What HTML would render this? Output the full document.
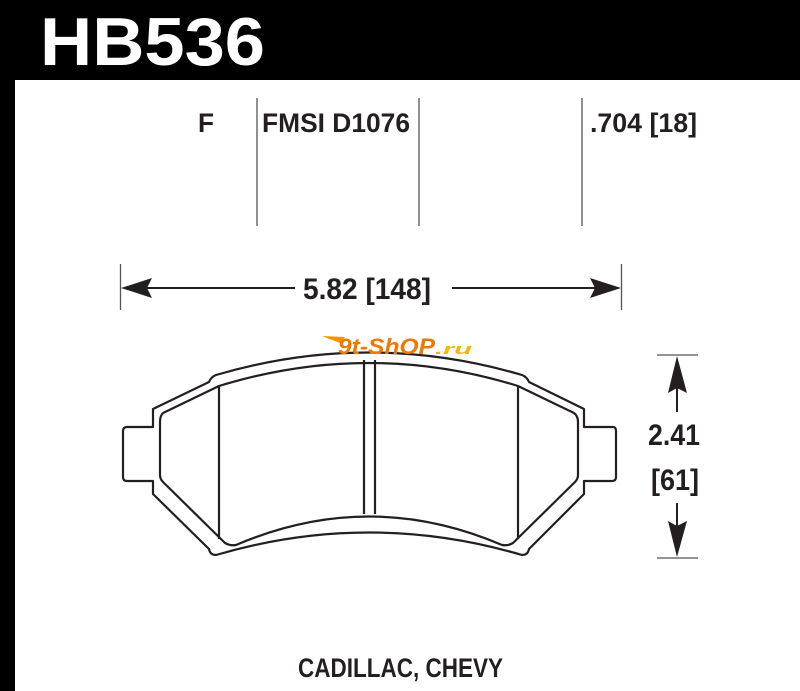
<!DOCTYPE html>
<html><head><meta charset="utf-8"><style>
html,body{margin:0;padding:0;background:#fff}
svg{display:block}
text{font-family:"Liberation Sans",sans-serif;font-weight:bold;fill:#231f20}
</style></head><body>
<svg width="800" height="691" viewBox="0 0 800 691" xmlns="http://www.w3.org/2000/svg">
<rect x="0" y="0" width="800" height="80" fill="#000"/>
<rect x="0" y="0" width="15" height="691" fill="#000"/>
<text x="40" y="65" font-size="68" fill="#fff" style="fill:#fff" textLength="225" lengthAdjust="spacingAndGlyphs">HB536</text>

<g stroke="#555" stroke-width="1.3">
<line x1="257" y1="98" x2="257" y2="226"/>
<line x1="419" y1="98" x2="419" y2="226"/>
<line x1="582" y1="98" x2="582" y2="226"/>
<line x1="120.5" y1="264" x2="120.5" y2="310"/>
<line x1="621.5" y1="264" x2="621.5" y2="310"/>
<line x1="657" y1="355" x2="698" y2="355"/>
<line x1="657" y1="558" x2="698" y2="558"/>
</g>
<text x="198" y="132" font-size="27" textLength="16" lengthAdjust="spacingAndGlyphs">F</text>
<text x="262" y="132" font-size="27" textLength="148" lengthAdjust="spacingAndGlyphs">FMSI D1076</text>
<text x="590" y="132" font-size="27" textLength="107" lengthAdjust="spacingAndGlyphs">.704 [18]</text>

<g stroke="#231f20" stroke-width="2" fill="#231f20">
<line x1="140" y1="288" x2="295" y2="288"/>
<line x1="452" y1="288" x2="602" y2="288"/>
<polygon points="121,288 152,278 147,288 152,298" stroke="none"/>
<polygon points="621,288 590,278 595,288 590,298" stroke="none"/>
<line x1="677" y1="380" x2="677" y2="412"/>
<line x1="677" y1="503" x2="677" y2="535"/>
<polygon points="677,356 668,393 677,388 687,393" stroke="none"/>
<polygon points="677,557 668,521 677,526 687,521" stroke="none"/>
</g>
<text x="303" y="299" font-size="30" textLength="128" lengthAdjust="spacingAndGlyphs">5.82 [148]</text>
<text x="648" y="445" font-size="30" textLength="52" lengthAdjust="spacingAndGlyphs">2.41</text>
<text x="651" y="490" font-size="30" textLength="48" lengthAdjust="spacingAndGlyphs">[61]</text>
<text x="298" y="677" font-size="27" textLength="205" lengthAdjust="spacingAndGlyphs">CADILLAC, CHEVY</text>

<g fill="none" stroke="#231f20" stroke-width="2.2" stroke-linejoin="round">
<path d="M153,409 L209,382 Q211,377 216,375 Q369,330 522,375 Q527,377 529,382 L584,409 L584,427 L613,427 Q616,427 616,431 L616,477 Q616,481 612,481 L584,481 L584,494 L529,549 Q528,555 522,555 Q369,510 216,555 Q210,555 209,549 L153,494 L153,481 L127,481 Q123,481 123,477 L123,431 Q123,427 127,427 L153,427 Z"/>
<path d="M163,413 L219,386 Q369,340 518,386 L574,413 Q578,416 578,422 L578,475 Q578,479 575,482 L513,543 Q508,546 502,545 Q369,488 236,545 Q230,546 225,543 L163,482 Q160,479 160,475 L160,422 Q160,416 163,413 Z"/>
<line x1="219" y1="386" x2="219" y2="539"/>
<line x1="518" y1="386" x2="518" y2="539"/>
<line x1="364" y1="360" x2="364" y2="514"/>
<line x1="375" y1="360" x2="375" y2="514"/>
</g>

<g>
<polygon points="322,336 345,337 340,343" fill="#f39200"/>
<text x="338" y="354" font-size="22" font-style="italic" style="fill:#f07800" textLength="97" lengthAdjust="spacingAndGlyphs">9t-ShOP</text>
<text x="435" y="354" font-size="15" font-style="italic" style="fill:#f5b800" textLength="37" lengthAdjust="spacingAndGlyphs">.ru</text>
</g>
</svg>
</body></html>
